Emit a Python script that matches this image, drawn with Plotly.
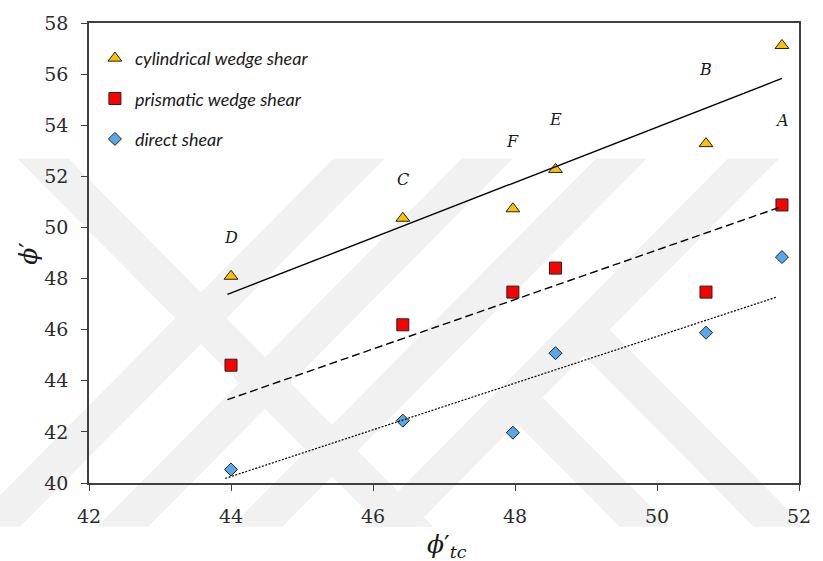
import plotly.graph_objects as go

# Measured friction angles: triaxial-compression angle vs. angle from each shear test
phi_tc = [44.0, 46.42, 47.97, 48.57, 50.69, 51.76]
sample_ids = ["D", "C", "F", "E", "B", "A"]
cylindrical = [48.09, 50.36, 50.73, 52.27, 53.28, 57.12]
prismatic = [44.61, 46.19, 47.47, 48.41, 47.47, 50.88]
direct = [40.53, 42.44, 41.97, 45.08, 45.88, 48.84]

# Linear trend lines (end points)
cyl_fit_x = [43.95, 51.76]
cyl_fit_y = [47.38, 55.83]
pri_fit_x = [43.95, 51.76]
pri_fit_y = [43.26, 50.82]
dir_fit_x = [43.92, 51.69]
dir_fit_y = [40.18, 47.28]

# Heights at which the sample letters sit
label_y = [49.61, 51.87, 53.35, 54.24, 56.19, 54.2]

x_ticks = [42, 44, 46, 48, 50, 52]
y_ticks = [40, 42, 44, 46, 48, 50, 52, 54, 56, 58]

# Plot-area geometry in pixels (used for the background watermark)
W_PX, H_PX = 823, 561
L, R, T, B = 89, 809, 21, 483


def px(x, y):
    return (x - L) / (R - L), (B - y) / (B - T)


def poly(points):
    pts = [px(x, y) for x, y in points]
    return "M " + " L ".join(f"{a:.4f},{b:.4f}" for a, b in pts) + " Z"


band = 52
top_y, bot_y = 157, 527
run = bot_y - top_y
wm_polys = []
for x0 in [337, 467, 603, 737]:
    wm_polys.append([(x0, top_y), (x0 + band, top_y), (x0 + band - run, bot_y), (x0 - run, bot_y)])
wm_polys.append([(16, top_y), (16 + band, top_y), (16 + band + run, bot_y), (16 + run, bot_y)])
wm_polys.append([(523, 423), (549, 397), (679, bot_y), (627, bot_y)])
wm_polys.append([(591, 355), (617, 329), (815, bot_y), (763, bot_y)])

shapes = [
    dict(type="path", path=poly(p), xref="paper", yref="paper",
         fillcolor="#F1F1F1", line=dict(width=0), layer="below")
    for p in wm_polys
]

fig = go.Figure()

fig.add_trace(go.Scatter(
    x=phi_tc, y=cylindrical, mode="markers", name="cylindrical wedge shear",
    legendgroup="cyl",
    marker=dict(symbol="triangle-up", size=12, color="#FFC000",
                line=dict(color="#222222", width=1)),
))
fig.add_trace(go.Scatter(
    x=phi_tc, y=prismatic, mode="markers", name="prismatic wedge shear",
    legendgroup="pri",
    marker=dict(symbol="square", size=12, color="#FF0000",
                line=dict(color="#222222", width=1)),
))
fig.add_trace(go.Scatter(
    x=phi_tc, y=direct, mode="markers", name="direct shear",
    legendgroup="dir",
    marker=dict(symbol="diamond", size=10, color="#56A8E8",
                line=dict(color="#222222", width=1)),
))

fig.add_trace(go.Scatter(x=cyl_fit_x, y=cyl_fit_y, mode="lines", showlegend=False,
                         line=dict(color="black", width=1.4)))
fig.add_trace(go.Scatter(x=pri_fit_x, y=pri_fit_y, mode="lines", showlegend=False,
                         line=dict(color="black", width=1.4, dash="8px,4px")))
fig.add_trace(go.Scatter(x=dir_fit_x, y=dir_fit_y, mode="lines", showlegend=False,
                         line=dict(color="black", width=1.2, dash="2px,1.5px")))

annotations = [
    dict(x=x, y=y, text=f"<i>{s}</i>", showarrow=False, xref="x", yref="y",
         xanchor="center", yanchor="middle",
         font=dict(family="DejaVu Serif", size=16, color="#1a1a1a"))
    for x, y, s in zip(phi_tc, label_y, sample_ids)
]
annotations.append(dict(
    x=px(452, 0)[0], y=px(0, 546)[1], xref="paper", yref="paper", showarrow=False,
    xanchor="center", yanchor="middle",
    text="<i>ϕ</i>′<sub><i>tc</i></sub>",
    font=dict(family="DejaVu Serif", size=25, color="#1a1a1a"),
))
annotations.append(dict(
    x=px(27, 0)[0], y=0.5, xref="paper", yref="paper", showarrow=False,
    xanchor="center", yanchor="middle",
    text="<i>ϕ</i>′", textangle=-90,
    font=dict(family="DejaVu Serif", size=25, color="#1a1a1a"),
))

tick_font = dict(family="DejaVu Serif", size=19, color="#2b2b2b")

fig.update_layout(
    width=W_PX, height=H_PX,
    margin=dict(l=L, r=W_PX - R, t=T, b=H_PX - B),
    paper_bgcolor="white", plot_bgcolor="rgba(0,0,0,0)",
    font=dict(family="DejaVu Serif", size=19, color="#2b2b2b"),
    shapes=shapes,
    annotations=annotations,
    showlegend=True,
    legend=dict(
        x=px(95, 0)[0], y=px(0, 38)[1], xanchor="left", yanchor="top",
        bgcolor="rgba(0,0,0,0)", borderwidth=0, tracegroupgap=14,
        font=dict(family="Lato", size=18, color="#1a1a1a", style="italic"),
    ),
    xaxis=dict(
        range=[42, 52], tickmode="array", tickvals=x_ticks,
        ticktext=[str(v) for v in x_ticks], tickfont=tick_font,
        ticklabelstandoff=9,
        showgrid=False, zeroline=False, showline=True, linecolor="#404040",
        linewidth=1.5, mirror=True, ticks="outside", ticklen=6, tickwidth=1.2,
        tickcolor="#404040",
    ),
    yaxis=dict(
        range=[40, 58], tickmode="array", tickvals=y_ticks,
        ticktext=[str(v) for v in y_ticks], tickfont=tick_font,
        ticklabelstandoff=9,
        showgrid=False, zeroline=False, showline=True, linecolor="#404040",
        linewidth=1.5, mirror=True, ticks="outside", ticklen=6, tickwidth=1.2,
        tickcolor="#404040",
    ),
)

fig.write_html("out.html")
